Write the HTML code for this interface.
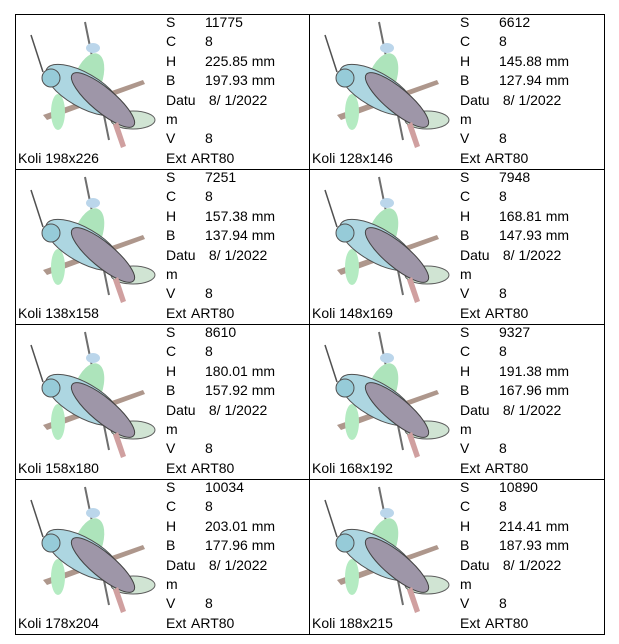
<!DOCTYPE html>
<html><head><style>
body{margin:0;background:#fff;width:619px;height:644px;position:relative;font-family:"Liberation Sans",Arial,sans-serif;font-size:14px;color:#000;overflow:hidden}
.c{position:absolute;width:294px;height:155px}
.t{position:absolute;line-height:19.4px;white-space:pre}
.b{position:absolute;left:8px;top:6px;opacity:.85}
</style></head><body>
<svg width="619" height="644" style="position:absolute;left:0;top:0">
<rect x="15.5" y="14.5" width="589" height="620" fill="none" stroke="#000"/>
<line x1="309.5" y1="14" x2="309.5" y2="635" stroke="#000"/>
<line x1="15" y1="169.5" x2="605" y2="169.5" stroke="#000"/>
<line x1="15" y1="324.5" x2="605" y2="324.5" stroke="#000"/>
<line x1="15" y1="479.5" x2="605" y2="479.5" stroke="#000"/>
</svg>
<div id="root"></div>
<script>
var d=[["11775","225.85","197.93","198x226"],["6612","145.88","127.94","128x146"],["7251","157.38","137.94","138x158"],["7948","168.81","147.93","148x169"],["8610","180.01","157.92","158x180"],["9327","191.38","167.96","168x192"],["10034","203.01","177.96","178x204"],["10890","214.41","187.93","188x215"]];
var bird='<svg class="b" width="135" height="130" viewBox="0 0 135 130">'+
'<line x1="62" y1="2" x2="86" y2="120" stroke="#555" stroke-width="2"/>'+
'<path d="M20 95 L120 60 L122 64 L24 100Z" fill="#a08578"/>'+
'<ellipse cx="65" cy="60" rx="14" ry="28" fill="#9fe0b0" transform="rotate(20 65 60)"/>'+
'<ellipse cx="35" cy="92" rx="7" ry="18" fill="#a8e8b8"/>'+
'<ellipse cx="110" cy="100" rx="22" ry="9" fill="#c8e0cc" stroke="#444"/>'+
'<ellipse cx="60" cy="70" rx="42" ry="17" fill="#9fd0dc" stroke="#333" transform="rotate(30 60 70)"/>'+
'<circle cx="28" cy="58" r="9" fill="#84c2d2" stroke="#333"/>'+
'<line x1="20" y1="52" x2="8" y2="15" stroke="#333" stroke-width="1.5"/>'+
'<ellipse cx="80" cy="80" rx="40" ry="12" fill="#8e849a" stroke="#222" transform="rotate(40 80 80)"/>'+
'<path d="M90 105 L98 128 L103 126 L95 102Z" fill="#c89090"/>'+
'<ellipse cx="70" cy="28" rx="7" ry="5" fill="#b0d0e8"/></svg>';
var h='';
for(var i=0;i<8;i++){var x=15+(i%2)*294,y=14+Math.floor(i/2)*155,v=d[i];
h+='<div class="c" style="left:'+x+'px;top:'+y+'px">'+bird+
'<div class="t" style="left:151px;top:-1px">S\nC\nH\nB\nDatu\nm\nV\nExt</div>'+
'<div class="t" style="left:190px;top:-1px">'+v[0]+'\n8\n'+v[1]+' mm\n'+v[2]+' mm\n 8/ 1/2022\n\n8\n</div>'+
'<div class="t" style="left:176px;top:134.8px">ART80</div>'+
'<div class="t" style="left:3px;top:134.8px">Koli '+v[3]+'</div></div>';}
document.getElementById('root').innerHTML=h;
</script>
</body></html>
